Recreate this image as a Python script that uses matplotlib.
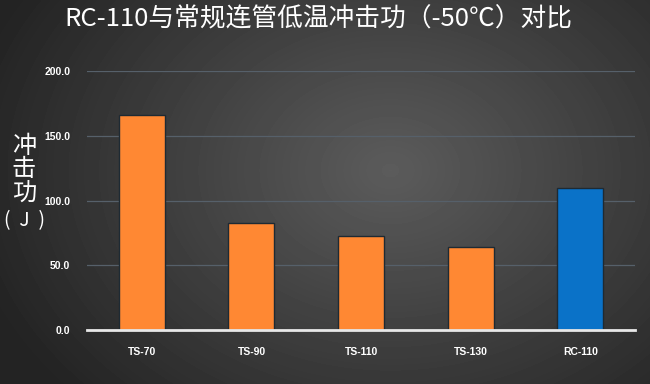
import numpy as np
import matplotlib
matplotlib.use("Agg")
import matplotlib.pyplot as plt

plt.rcParams['font.family'] = ['Noto Sans CJK SC', 'DejaVu Sans']

categories = ["TS-70", "TS-90", "TS-110", "TS-130", "RC-110"]
values = [166.0, 82.6, 72.8, 64.3, 109.4]
bar_colors = ["#FF8833", "#FF8833", "#FF8833", "#FF8833", "#0A72C8"]
yticks = [0, 50, 100, 150, 200]
title = "RC-110与常规连管低温冲击功（-50℃）对比"
ylabel_chars = ["冲", "击", "功"]
ylabel_unit = "(  J  )"

fig = plt.figure(figsize=(6.5, 3.84), dpi=100)

# background radial gradient
bg = fig.add_axes([0, 0, 1, 1], zorder=0)
yy, xx = np.mgrid[0:384, 0:650]
cx, cy = 390, 170
r = np.sqrt(((xx - cx) / 430.0) ** 2 + ((yy - cy) / 330.0) ** 2)
val = np.clip(0.36 - 0.22 * r, 0.14, 0.36)
bg.imshow(val, cmap="gray", vmin=0, vmax=1, aspect="auto", extent=[0, 1, 0, 1])
bg.axis("off")

ax = fig.add_axes([0.134, 0.1406, 0.843, 0.6745], zorder=1)
ax.set_facecolor("none")
x = np.arange(len(categories))
ax.bar(x, values, width=0.42, color=bar_colors, edgecolor="#1e2a33", linewidth=1.0, zorder=3)
ax.set_xlim(-0.5, len(categories) - 0.5)
ax.set_ylim(0, 200)
ax.set_yticks(yticks)
ax.set_yticklabels([f"{v:.1f}" for v in yticks], color="white", fontsize=7.5,
                   family=["Liberation Sans"], fontweight="bold")
ax.set_xticks(x)
ax.set_xticklabels(categories, color="white", fontsize=7.5,
                   family=["Liberation Sans"], fontweight="bold")
ax.tick_params(axis="y", length=0, pad=12)
ax.tick_params(axis="x", length=0, pad=12)
ax.grid(axis="y", color="#56606a", linewidth=0.9, zorder=1)
ax.set_axisbelow(True)
for s in ["top", "right", "left"]:
    ax.spines[s].set_visible(False)
ax.spines["bottom"].set_color("#e8e8e8")
ax.spines["bottom"].set_linewidth(2)
ax.spines["bottom"].set_zorder(4)

fig.text(0.49, 0.948, title, ha="center", va="center", color="white", fontsize=18.5)
for i, ch in enumerate(ylabel_chars):
    fig.text(24 / 650, 1 - (146 + 23.5 * i) / 384, ch, ha="center", va="center",
             color="white", fontsize=17.5)
fig.text(24 / 650, 1 - 221 / 384, ylabel_unit, ha="center", va="center",
         color="white", fontsize=14, family=["Noto Sans CJK SC"])

fig.savefig("out.png", dpi=100)
